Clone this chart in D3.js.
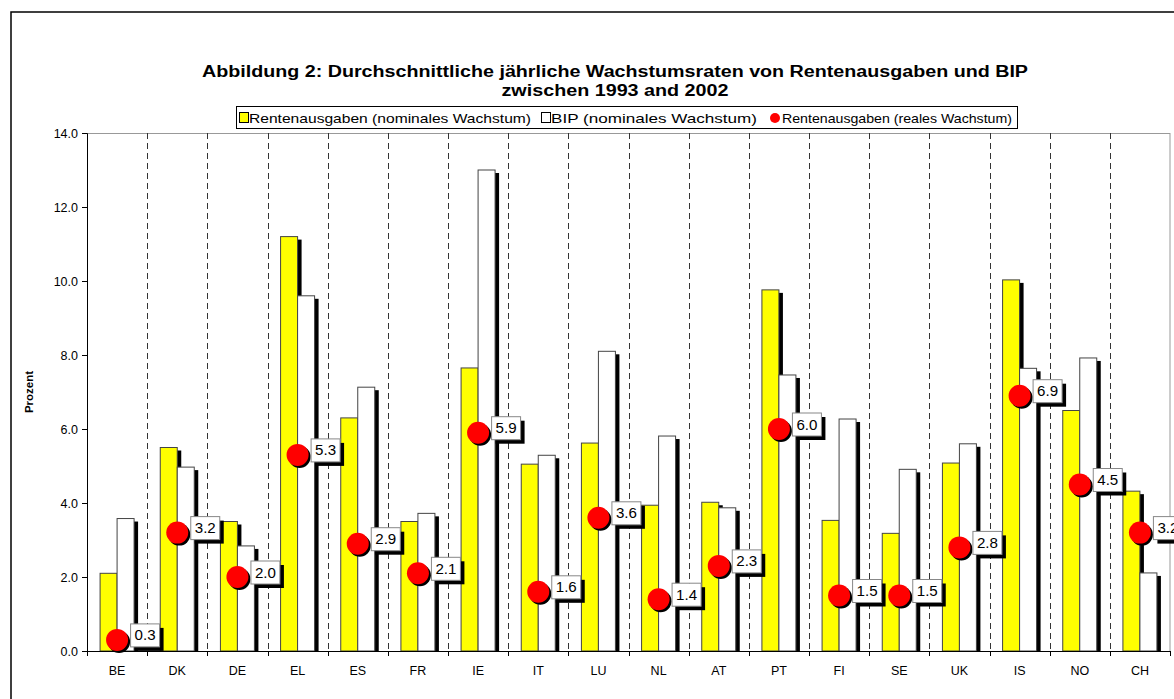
<!DOCTYPE html>
<html><head><meta charset="utf-8">
<script src="https://cdn.jsdelivr.net/npm/d3@7"></script>
<style>body{margin:0;background:#fff}svg{display:block;font-family:Arial,"Liberation Sans",sans-serif}</style>
</head><body><svg id="c" width="1174" height="699"></svg>
<script>
const countries = ["BE","DK","DE","EL","ES","FR","IE","IT","LU","NL","AT","PT","FI","SE","UK","IS","NO","CH"];
const pensionNominal = [2.1,5.5,3.5,11.2,6.3,3.5,7.65,5.05,5.62,3.94,4.02,9.76,3.53,3.18,5.08,10.03,6.5,4.32];
const gdpNominal = [3.58,4.97,2.84,9.6,7.13,3.72,13.0,5.29,8.1,5.81,3.87,7.46,6.27,4.91,5.6,7.64,7.92,2.11];
const pensionReal = [0.3,3.2,2.0,5.3,2.9,2.1,5.9,1.6,3.6,1.4,2.3,6.0,1.5,1.5,2.8,6.9,4.5,3.2];
const yTicks = [0,2,4,6,8,10,12,14];
const titleLines = ["Abbildung 2: Durchschnittliche jährliche Wachstumsraten von Rentenausgaben und BIP","zwischen 1993 and 2002"];
const legendLabels = ["Rentenausgaben (nominales Wachstum)","BIP (nominales Wachstum)","Rentenausgaben (reales Wachstum)"];
const yLabel = "Prozent";

const svg = d3.select("#c");
const L=87, R=1170, T=133, B=651;
const FONT = "Arial, Liberation Sans, sans-serif";
svg.append("rect").attr("width",1174).attr("height",699).attr("fill","#fff");
// header text above the frame, clipped by the top of the page (only a descender shows)
svg.append("text").attr("x",826).attr("y",-3).attr("font-size",14).attr("font-weight","bold").attr("text-anchor","middle").text("g");
svg.append("rect").attr("x",11).attr("y",12).attr("width",1250).attr("height",720).attr("fill","none").attr("stroke","#000").attr("stroke-width",1.5);

const x = d3.scaleBand().domain(countries).range([L,R]).padding(0);
const y = d3.scaleLinear().domain([0,14]).range([B,T]);
const bw = x.bandwidth();
const barW = 17;

svg.append("line").attr("x1",L).attr("x2",R).attr("y1",T+0.5).attr("y2",T+0.5).attr("stroke","#999");
svg.append("line").attr("x1",R).attr("x2",R).attr("y1",T).attr("y2",B).attr("stroke","#999");

svg.append("g").selectAll("line").data(countries.slice(1)).join("line")
  .attr("x1",d=>Math.round(x(d))+0.5).attr("x2",d=>Math.round(x(d))+0.5)
  .attr("y1",T).attr("y2",B).attr("stroke","#333").attr("stroke-dasharray","6,4");

const cx = d=>x(d)+bw/2;
const g = svg.append("g");
g.selectAll(".sy").data(countries).join("rect")
  .attr("x",d=>cx(d)-barW+4).attr("y",(d,i)=>y(pensionNominal[i])+3)
  .attr("width",barW).attr("height",(d,i)=>B-y(pensionNominal[i])-3).attr("fill","#000");
g.selectAll(".sw").data(countries).join("rect")
  .attr("x",d=>cx(d)+4).attr("y",(d,i)=>y(gdpNominal[i])+3)
  .attr("width",barW).attr("height",(d,i)=>B-y(gdpNominal[i])-3).attr("fill","#000");
g.selectAll(".by").data(countries).join("rect")
  .attr("x",d=>cx(d)-barW).attr("y",(d,i)=>y(pensionNominal[i]))
  .attr("width",barW).attr("height",(d,i)=>B-y(pensionNominal[i])).attr("fill","#ffff00").attr("stroke","#444").attr("stroke-width",1);
g.selectAll(".bw").data(countries).join("rect")
  .attr("x",d=>cx(d)).attr("y",(d,i)=>y(gdpNominal[i]))
  .attr("width",barW).attr("height",(d,i)=>B-y(gdpNominal[i])).attr("fill","#fff").attr("stroke","#444").attr("stroke-width",1);

const yAxis = d3.axisLeft(y).tickValues(yTicks).tickFormat(d3.format(".1f")).tickSize(5).tickPadding(4);
const ya = svg.append("g").attr("transform",`translate(${L},0)`).call(yAxis);
ya.selectAll("text").attr("font-size",12.5).attr("font-family",FONT).attr("fill","#000");
ya.selectAll("line,path").attr("stroke","#000");
const xAxis = d3.axisBottom(x).tickSize(0).tickPadding(15);
const xa = svg.append("g").attr("transform",`translate(0,${B})`).call(xAxis);
xa.selectAll("text").attr("font-size",12.5).attr("font-family",FONT).attr("fill","#000");
xa.select("path").attr("stroke","#000");
svg.append("g").selectAll("line").data(d3.range(countries.length+1)).join("line")
  .attr("x1",i=>Math.round(L+i*bw)+0.5).attr("x2",i=>Math.round(L+i*bw)+0.5)
  .attr("y1",B).attr("y2",B+5).attr("stroke","#000");

const dg = svg.append("g");
countries.forEach((c,i)=>{
  const px=cx(c), py=y(pensionReal[i]);
  dg.append("circle").attr("cx",px+2).attr("cy",py+2).attr("r",11).attr("fill","#000");
  dg.append("circle").attr("cx",px).attr("cy",py).attr("r",11).attr("fill","#ff0000");
  const bx=px+13.5, by=py-16;
  dg.append("rect").attr("x",bx+4).attr("y",by+4).attr("width",29).attr("height",23).attr("fill","#000");
  dg.append("rect").attr("x",bx).attr("y",by).attr("width",29).attr("height",23).attr("fill","#fff").attr("stroke","#888");
  dg.append("text").attr("x",bx+14.5).attr("y",by+16.5).attr("text-anchor","middle").attr("font-size",14)
    .attr("textLength",21).attr("lengthAdjust","spacingAndGlyphs").text(d3.format(".1f")(pensionReal[i]));
});

svg.append("text").attr("transform","translate(33,392) rotate(-90)").attr("text-anchor","middle")
  .attr("font-size",11.5).attr("font-weight","bold").text(yLabel);

const titleW = [826, 227];
titleLines.forEach((t,i)=>{
  svg.append("text").attr("x",615).attr("y",77+i*19).attr("text-anchor","middle")
    .attr("font-size",16).attr("font-weight","bold")
    .attr("textLength",titleW[i]).attr("lengthAdjust","spacingAndGlyphs").text(t);
});

// legend
svg.append("rect").attr("x",236.5).attr("y",106.5).attr("width",781).attr("height",22).attr("fill","#fff").attr("stroke","#000");
const ly=118;
const legW = [282, 206, 230];
svg.append("rect").attr("x",239.5).attr("y",ly-5.5).attr("width",9).attr("height",10).attr("fill","#ffff00").attr("stroke","#000");
svg.append("text").attr("x",249).attr("y",ly+4.5).attr("font-size",13).attr("textLength",legW[0]).attr("lengthAdjust","spacingAndGlyphs").text(legendLabels[0]);
svg.append("rect").attr("x",541.5).attr("y",ly-5.5).attr("width",9).attr("height",10).attr("fill","#fff").attr("stroke","#000");
svg.append("text").attr("x",551).attr("y",ly+4.5).attr("font-size",13).attr("textLength",legW[1]).attr("lengthAdjust","spacingAndGlyphs").text(legendLabels[1]);
svg.append("circle").attr("cx",775).attr("cy",ly).attr("r",5).attr("fill","#ff0000");
svg.append("text").attr("x",782).attr("y",ly+4.5).attr("font-size",13).attr("textLength",legW[2]).attr("lengthAdjust","spacingAndGlyphs").text(legendLabels[2]);
</script></body></html>
